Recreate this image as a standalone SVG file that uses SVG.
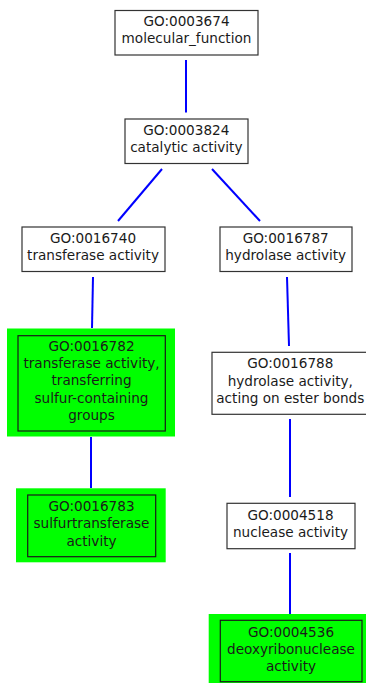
<svg xmlns="http://www.w3.org/2000/svg" width="366" height="683" viewBox="0 0 366 683">
  <style>
    .box { fill: #ffffff; stroke: #333333; stroke-width: 1.2; }
    .hit { fill: #00ff00; stroke: none; }
    .hbox { fill: #00ff00; stroke: #1a1a1a; stroke-width: 1.2; }
    .lbl { font-family: "DejaVu Sans", "Liberation Sans", sans-serif; font-size: 13.6px; fill: #1a1a1a; text-anchor: middle; }
    .edge { stroke: #0000ff; stroke-width: 2; fill: none; }
  </style>
  <rect width="366" height="683" fill="#ffffff"/>

  <!-- connectors -->
  <g id="edges">
    <line class="edge" x1="186" y1="60" x2="186" y2="112.5"/>
    <line class="edge" x1="162" y1="169" x2="118" y2="221"/>
    <line class="edge" x1="212" y1="169" x2="260" y2="221"/>
    <line class="edge" x1="93" y1="277" x2="92" y2="328"/>
    <line class="edge" x1="287" y1="277" x2="289" y2="346"/>
    <line class="edge" x1="91" y1="437" x2="91" y2="488"/>
    <line class="edge" x1="290" y1="419" x2="290" y2="497"/>
    <line class="edge" x1="290" y1="553" x2="290" y2="614"/>
  </g>

  <g id="GO0003674">
    <rect class="box" x="115" y="10.5" width="143" height="44.5"/>
    <text class="lbl" x="186.5" y="26.3">GO:0003674</text>
    <text class="lbl" x="186.5" y="43.3">molecular_function</text>
  </g>

  <g id="GO0003824">
    <rect class="box" x="125" y="119" width="123" height="44.5"/>
    <text class="lbl" x="186.3" y="135">GO:0003824</text>
    <text class="lbl" x="186.3" y="152">catalytic activity</text>
  </g>

  <g id="GO0016740">
    <rect class="box" x="22" y="227" width="143" height="44.5"/>
    <text class="lbl" x="93" y="243.3">GO:0016740</text>
    <text class="lbl" x="93" y="260.3">transferase activity</text>
  </g>

  <g id="GO0016787">
    <rect class="box" x="220" y="227" width="132" height="44.5"/>
    <text class="lbl" x="285.7" y="243.3">GO:0016787</text>
    <text class="lbl" x="285.7" y="260.3">hydrolase activity</text>
  </g>

  <g id="GO0016782">
    <rect class="hit" x="7" y="328.5" width="168" height="108"/>
    <rect class="hbox" x="18" y="335.7" width="147.3" height="95.3"/>
    <text class="lbl" x="91.5" y="350.7">GO:0016782</text>
    <text class="lbl" x="91.5" y="368">transferase activity,</text>
    <text class="lbl" x="91.5" y="385.3">transferring</text>
    <text class="lbl" x="91.5" y="402.6">sulfur-containing</text>
    <text class="lbl" x="91.5" y="420">groups</text>
  </g>

  <g id="GO0016788">
    <rect class="box" x="212" y="352.3" width="158" height="62"/>
    <text class="lbl" x="290.3" y="368.3">GO:0016788</text>
    <text class="lbl" x="290.3" y="385.6">hydrolase activity,</text>
    <text class="lbl" x="290.3" y="402.9">acting on ester bonds</text>
  </g>

  <g id="GO0016783">
    <rect class="hit" x="16" y="488.3" width="149.7" height="74"/>
    <rect class="hbox" x="27.7" y="495" width="128" height="61.7"/>
    <text class="lbl" x="91.5" y="511">GO:0016783</text>
    <text class="lbl" x="91.5" y="528.3">sulfurtransferase</text>
    <text class="lbl" x="91.5" y="545.6">activity</text>
  </g>

  <g id="GO0004518">
    <rect class="box" x="227" y="503.3" width="128" height="45.4"/>
    <text class="lbl" x="290.5" y="519.7">GO:0004518</text>
    <text class="lbl" x="290.5" y="537">nuclease activity</text>
  </g>

  <g id="GO0004536">
    <rect class="hit" x="208.7" y="614" width="157.3" height="69"/>
    <rect class="hbox" x="220.3" y="620.3" width="141.7" height="61.4"/>
    <text class="lbl" x="291" y="636.7">GO:0004536</text>
    <text class="lbl" x="291" y="654">deoxyribonuclease</text>
    <text class="lbl" x="291" y="671.3">activity</text>
  </g>
</svg>
